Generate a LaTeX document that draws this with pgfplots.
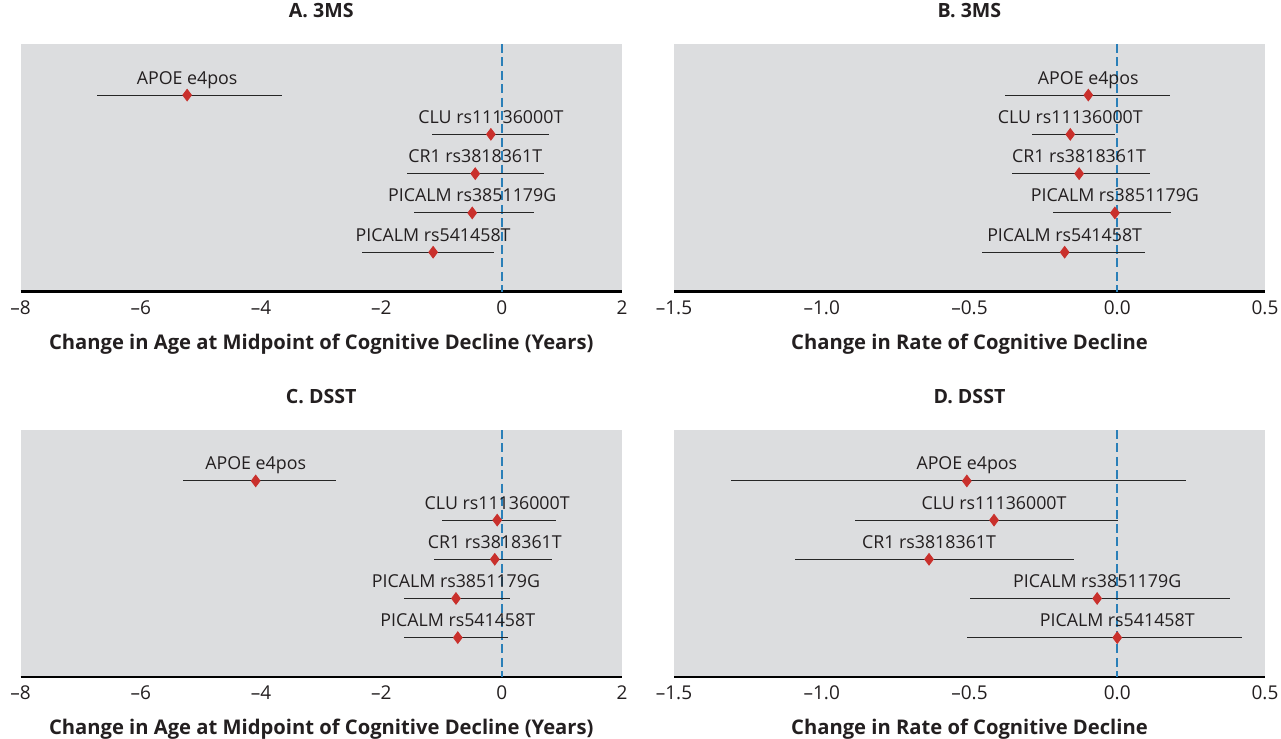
\documentclass[border=0pt]{standalone}
\usepackage{fontspec}
\setmainfont{Open Sans}
\usepackage{pgfplots}
\usepackage{pgfplotstable}
\pgfplotsset{compat=1.18}
\definecolor{bggray}{HTML}{DCDDDF}
\definecolor{dotred}{HTML}{C9302C}
\definecolor{zeroblue}{HTML}{2A7FB8}
\definecolor{txt}{HTML}{231F20}

\pgfplotstableread[col sep=comma]{
y,x,lo,hi,label
5,-5.23,-6.73,-3.66,APOE e4pos
4,-0.18,-1.16,0.79,CLU rs11136000T
3,-0.44,-1.58,0.71,CR1 rs3818361T
2,-0.49,-1.45,0.53,PICALM rs3851179G
1,-1.14,-2.32,-0.12,PICALM rs541458T
}\tabA
\pgfplotstableread[col sep=comma]{
y,x,lo,hi,label
5,-0.098,-0.38,0.18,APOE e4pos
4,-0.159,-0.29,-0.007,CLU rs11136000T
3,-0.129,-0.357,0.112,CR1 rs3818361T
2,-0.008,-0.218,0.182,PICALM rs3851179G
1,-0.178,-0.459,0.095,PICALM rs541458T
}\tabB
\pgfplotstableread[col sep=comma]{
y,x,lo,hi,label
5,-4.09,-5.30,-2.76,APOE e4pos
4,-0.075,-1.00,0.90,CLU rs11136000T
3,-0.115,-1.13,0.83,CR1 rs3818361T
2,-0.76,-1.62,0.13,PICALM rs3851179G
1,-0.73,-1.62,0.11,PICALM rs541458T
}\tabC
\pgfplotstableread[col sep=comma]{
y,x,lo,hi,label
5,-0.509,-1.308,0.234,APOE e4pos
4,-0.417,-0.886,0.003,CLU rs11136000T
3,-0.637,-1.089,-0.148,CR1 rs3818361T
2,-0.068,-0.499,0.383,PICALM rs3851179G
1,0.0,-0.509,0.422,PICALM rs541458T
}\tabD

\pgfplotsset{
  forest/.style={
    scale only axis, ymin=0, ymax=6.3,
    hide y axis, axis x line*=bottom,
    x axis line style={line width=1.2pt, -, black},
    axis background/.style={fill=bggray},
    major tick length=0pt, ytick=\empty, clip=false,
    tick label style={font=\fontsize{9.5}{11}\selectfont, text=txt},
    xticklabel style={anchor=base, yshift=-11.5pt, inner sep=0pt},
    xlabel style={font=\bfseries\fontsize{10.1}{12}\selectfont, text=txt, at={(axis description cs:0.5,0)}, anchor=base, yshift=-29pt, inner sep=0pt},
    title style={font=\bfseries\fontsize{9.8}{12}\selectfont, text=txt, at={(axis description cs:0.5,1)}, anchor=base, yshift=7.5pt, inner sep=0pt},
  },
  agex/.style={xmin=-8, xmax=2, xtick={-8,-6,-4,-2,0,2}, xticklabels={–8,–6,–4,–2,0,2},
    xlabel={Change in Age at Midpoint of Cognitive Decline (Years)}},
  ratex/.style={xmin=-1.5, xmax=0.5, xtick={-1.5,-1,-0.5,0,0.5}, xticklabels={–1.5,–1.0,–0.5,0.0,0.5},
    xlabel={Change in Rate of Cognitive Decline}},
  zeroline/.style={zeroblue, line width=0.8pt, dash pattern=on 4.5pt off 2.2pt, forget plot},
  est/.style={only marks, mark=diamond*, mark size=2.9pt, color=dotred,
    error bars/x dir=both, error bars/x explicit, error bars/error mark=none,
    error bars/error bar style={line width=0.55pt, black!85, solid},
    nodes near coords, point meta=explicit symbolic,
    every node near coord/.style={anchor=base, yshift=5.5pt, inner sep=0pt, text=txt, font=\fontsize{8.9}{11}\selectfont}},
}

\begin{document}
\begin{tikzpicture}
\useasboundingbox (0,0) rectangle (640.5pt,-369.5pt);

\begin{axis}[forest, agex, at={(10.25pt,-145.75pt)}, anchor=south west, width=300.75pt, height=123.75pt, title={A. 3MS}]
\addplot[zeroline] coordinates {(0,6.3) (0,0)};
\addplot[est] table[x=x, y=y, meta=label, x error plus expr=\thisrow{hi}-\thisrow{x}, x error minus expr=\thisrow{x}-\thisrow{lo}] {\tabA};
\end{axis}

\begin{axis}[forest, ratex, at={(337pt,-145.75pt)}, anchor=south west, width=295.5pt, height=123.75pt, title={B. 3MS}]
\addplot[zeroline] coordinates {(0,6.3) (0,0)};
\addplot[est] table[x=x, y=y, meta=label, x error plus expr=\thisrow{hi}-\thisrow{x}, x error minus expr=\thisrow{x}-\thisrow{lo}] {\tabB};
\end{axis}

\begin{axis}[forest, agex, at={(10.25pt,-338.4pt)}, anchor=south west, width=300.75pt, height=123.4pt, title={C. DSST}]
\addplot[zeroline] coordinates {(0,6.3) (0,0)};
\addplot[est] table[x=x, y=y, meta=label, x error plus expr=\thisrow{hi}-\thisrow{x}, x error minus expr=\thisrow{x}-\thisrow{lo}] {\tabC};
\end{axis}

\begin{axis}[forest, ratex, at={(337pt,-338.4pt)}, anchor=south west, width=295.5pt, height=123.4pt, title={D. DSST}]
\addplot[zeroline] coordinates {(0,6.3) (0,0)};
\addplot[est] table[x=x, y=y, meta=label, x error plus expr=\thisrow{hi}-\thisrow{x}, x error minus expr=\thisrow{x}-\thisrow{lo}] {\tabD};
\end{axis}
\end{tikzpicture}
\end{document}
